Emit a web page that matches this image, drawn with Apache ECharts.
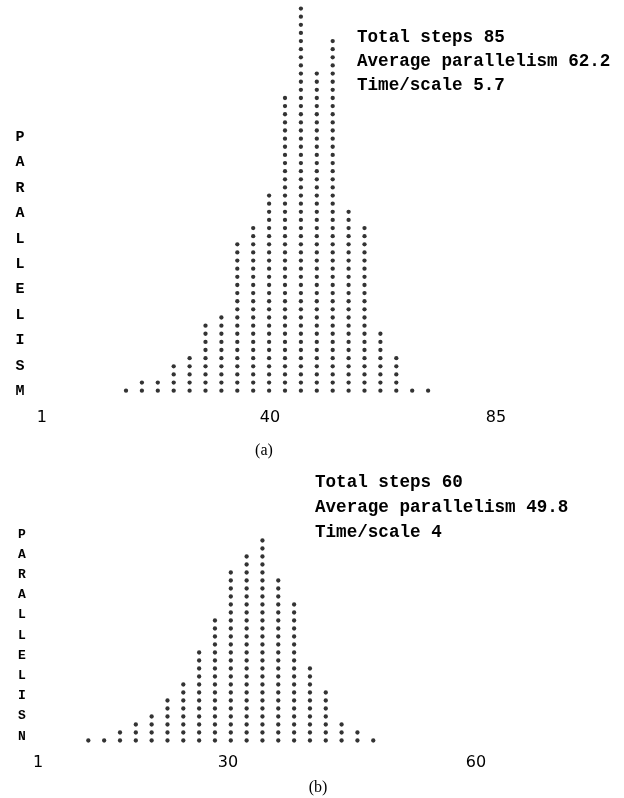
<!DOCTYPE html>
<html>
<head>
<meta charset="utf-8">
<script src="https://cdn.jsdelivr.net/npm/echarts@6/dist/echarts.min.js"></script>
<style>
html,body{margin:0;padding:0;background:#fff;}
#chart{width:624px;height:798px;}
</style>
</head>
<body>
<div id="chart"></div>
<script>
// Panel (a): number of dots (parallelism) in each time column
const heightsA = [1, 2, 2, 4, 5, 9, 10, 19, 21, 25, 37, 48, 40, 44, 23, 21, 8, 5, 1, 1];
// Panel (b)
const heightsB = [1, 1, 2, 3, 4, 6, 8, 12, 16, 22, 24, 26, 21, 18, 10, 7, 3, 2, 1];

// x tick labels and where they sit on the column axis
const ticksA = ['1', '40', '85'];
const tickPosA = [-4.3, 10.06, 24.27];
const ticksB = ['1', '30', '60'];
const tickPosB = [-2.18, 9.82, 25.49];

const statsA = ['Total steps 85', 'Average parallelism 62.2', 'Time/scale 5.7'];
const statsB = ['Total steps 60', 'Average parallelism 49.8', 'Time/scale 4'];
const yTitleA = 'PARALLELISM';
const yTitleB = 'PARALLELISN';
const captions = ['(a)', '(b)'];

function dots(heights) {
  const pts = [];
  heights.forEach((h, i) => {
    for (let k = 1; k <= h; k++) pts.push([i + 1, k]);
  });
  return pts;
}

const chart = echarts.init(document.getElementById('chart'), null, {renderer: 'canvas'});

function xAxis(gridIndex, min, max, labels, pos, margin) {
  return {
    type: 'value', gridIndex, min, max,
    axisLine: {show: false}, axisTick: {show: false}, splitLine: {show: false},
    axisLabel: {
      customValues: pos,
      formatter: (v, idx) => labels[pos.indexOf(v)] !== undefined ? labels[pos.indexOf(v)] : labels[idx],
      color: '#000', fontFamily: 'DejaVu Sans', fontSize: 16, margin
    }
  };
}
function yAxis(gridIndex, max) {
  return {type: 'value', gridIndex, min: 0, max, show: false};
}

const monoBold = (size) => ({fontFamily: 'Liberation Mono', fontWeight: 'bold', fontSize: size, fill: '#000'});

chart.setOption({
  animation: false,
  backgroundColor: '#fff',
  grid: [
    {left: 22.65, width: 492.9, top: 4.5, height: 394.3, outerBoundsMode: 'none', containLabel: false},
    {left: 17.1, width: 490.7, top: 532.5, height: 216, outerBoundsMode: 'none', containLabel: false}
  ],
  xAxis: [
    xAxis(0, -5.5, 25.5, ticksA, tickPosA, 11),
    xAxis(1, -3.5, 27.5, ticksB, tickPosB, 6.5)
  ],
  yAxis: [yAxis(0, 48.5), yAxis(1, 27)],
  series: [
    {type: 'scatter', xAxisIndex: 0, yAxisIndex: 0, data: dots(heightsA), symbol: 'circle', symbolSize: 4.3, itemStyle: {color: '#000'}, clip: false},
    {type: 'scatter', xAxisIndex: 1, yAxisIndex: 1, data: dots(heightsB), symbol: 'circle', symbolSize: 4.3, itemStyle: {color: '#000'}, clip: false}
  ],
  graphic: [
    {type: 'text', left: 357, top: 26, style: Object.assign({text: statsA.join('\n'), lineHeight: 24}, monoBold(17.6))},
    {type: 'text', left: 315, top: 470, style: Object.assign({text: statsB.join('\n'), lineHeight: 25}, monoBold(17.6))},
    {type: 'text', x: 20, y: 124.5, style: Object.assign({text: yTitleA.split('').join('\n'), lineHeight: 25.4, align: 'center'}, monoBold(15))},
    {type: 'text', x: 22, y: 524.3, style: Object.assign({text: yTitleB.split('').join('\n'), lineHeight: 20.2, align: 'center'}, monoBold(13))},
    {type: 'text', x: 264, y: 451, style: {text: captions[0], fontFamily: 'Liberation Serif', fontSize: 16, fill: '#000', align: 'center', verticalAlign: 'middle'}},
    {type: 'text', x: 318, y: 788, style: {text: captions[1], fontFamily: 'Liberation Serif', fontSize: 16, fill: '#000', align: 'center', verticalAlign: 'middle'}}
  ]
});
</script>
</body>
</html>
